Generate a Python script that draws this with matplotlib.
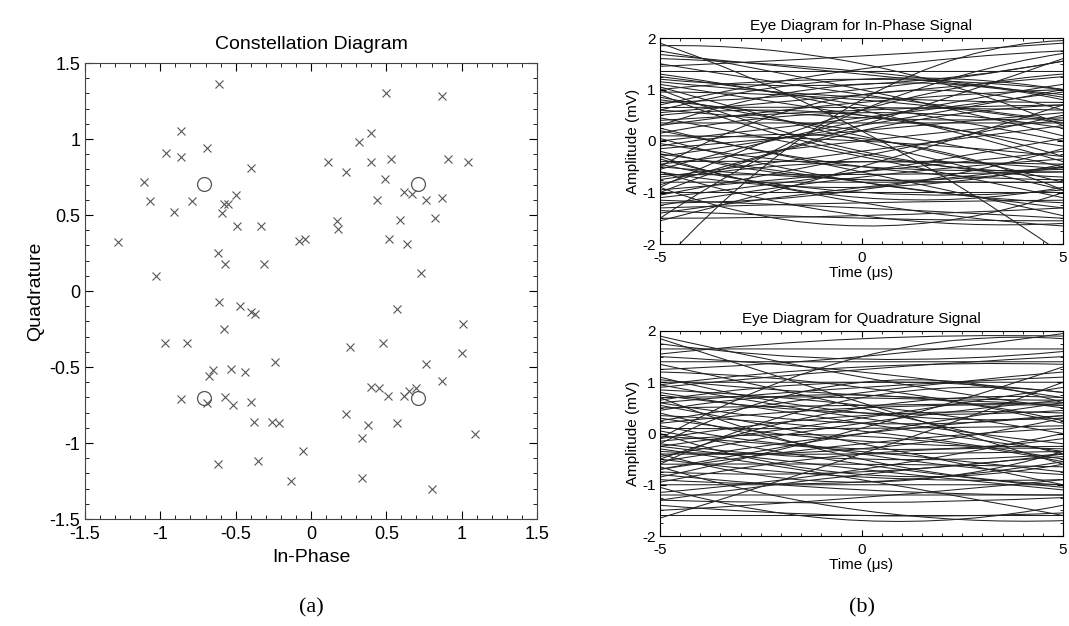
import numpy as np
import matplotlib.pyplot as plt
from matplotlib.path import Path
from matplotlib.patches import PathPatch
from matplotlib.ticker import MultipleLocator

plt.rcParams['font.family'] = ['Liberation Sans', 'DejaVu Sans']

# received symbols (In-Phase, Quadrature)
rx_i = [-0.61, -0.86, -0.96, -0.86, -0.69, -0.40, -1.11, -1.07, -0.79, -0.91,
        -0.58, -0.55, -0.50, -0.59, -0.49, -0.33, -1.28, -0.62, -0.57, -0.31,
        -1.03, -0.08, -0.04, -0.61, -0.47, -0.40, -0.37,
        0.50, 0.87, 0.40, 0.32, 0.11, 0.40, 0.53, 0.91, 1.04, 0.23,
        0.49, 0.62, 0.67, 0.44, 0.76, 0.87, 0.17, 0.18, 0.59, 0.82,
        0.52, 0.64, 0.73, 0.57,
        -0.58, -0.97, -0.82, -0.24, -0.68, -0.65, -0.53, -0.44, -0.86, -0.69,
        -0.57, -0.52, -0.40, -0.38, -0.26, -0.21, -0.62, -0.35, -0.13, -0.05,
        1.01, 0.26, 0.48, 1.00, 0.76, 0.87, 0.40, 0.45, 0.51, 0.62,
        0.65, 0.70, 0.23, 0.38, 0.57, 0.34, 1.09, 0.34, 0.80]
rx_q = [1.36, 1.05, 0.91, 0.88, 0.94, 0.81, 0.72, 0.59, 0.59, 0.52,
        0.57, 0.57, 0.63, 0.51, 0.43, 0.43, 0.32, 0.25, 0.18, 0.18,
        0.10, 0.33, 0.34, -0.07, -0.10, -0.14, -0.15,
        1.30, 1.28, 1.04, 0.98, 0.85, 0.85, 0.87, 0.87, 0.85, 0.78,
        0.74, 0.65, 0.64, 0.60, 0.60, 0.61, 0.46, 0.41, 0.47, 0.48,
        0.34, 0.31, 0.12, -0.12,
        -0.25, -0.34, -0.34, -0.47, -0.56, -0.52, -0.51, -0.53, -0.71, -0.74,
        -0.70, -0.75, -0.73, -0.86, -0.86, -0.87, -1.14, -1.12, -1.25, -1.05,
        -0.22, -0.37, -0.34, -0.41, -0.48, -0.59, -0.63, -0.64, -0.69, -0.69,
        -0.66, -0.64, -0.81, -0.88, -0.87, -0.97, -0.94, -1.23, -1.30]

# ideal QPSK points
ideal_i = [-0.707, 0.707, -0.707, 0.707]
ideal_q = [0.707, 0.707, -0.707, -0.707]

# eye traces: amplitude at t=-5, t=0, t=5 (mV)
eye_i_start = [1.9, -2.4, -1.5, -0.9, 1.85, 1.75, 1.68, 1.35, 1.3, 1.2,
               1.1, 1.0, 0.95, 0.85, 0.75, 0.65, 0.6, 0.55, 0.45, 0.35,
               0.3, 0.2, 0.1, 0.0, -0.05, -0.15, -0.25, -0.3, -0.4, -0.45,
               -0.5, -0.55, -0.65, -0.7, -0.8, -0.85, -0.95, -1.0, -1.05, -1.15,
               -1.25, -1.3, -1.4, -1.5, -1.55, 1.5, 1.45, 0.7, 0.5, 0.25,
               -0.2, -0.6, -0.35, 1.05, 0.9, -1.1, 0.4, -0.75, 1.15, -1.35,
               0.05, -0.9, 1.6, -0.45, 0.8, -1.2, 0.15, -0.1, 1.25, -0.6,
               0.6, -0.5, 1.0, -1.0, 0.3, -0.3]
eye_i_mid = [0.2, 0.8, 0.6, -1.65, 1.5, 1.0, 1.3, 1.35, 0.6, 1.1,
             0.5, 1.2, 0.8, 0.1, 1.0, 0.65, 0.2, 0.9, -0.3, 0.35,
             0.75, -0.6, 0.0, 0.45, -0.5, 0.2, -0.8, 0.3, -0.4, 0.0,
             -0.75, 0.4, -0.65, -0.2, -0.8, 0.3, -0.6, -1.0, -0.3, -1.3,
             -0.7, -1.2, -0.9, -1.45, -0.5, 0.9, 1.65, 1.4, 0.5, -0.5,
             -0.75, -0.9, -1.2, 0.0, -0.25, -0.6, 0.6, -0.4, 0.85, -1.5,
             -0.8, 0.6, 1.35, -1.0, 0.45, -0.95, 0.55, 0.05, 0.7, -1.45,
             1.2, 0.9, -0.2, 0.2, 1.1, -1.1]
eye_i_end = [-2.2, 1.95, 1.7, -1.0, 0.3, 0.1, 0.9, 1.35, -0.4, 1.55,
             -0.1, 1.0, 0.35, -0.8, 1.55, 0.6, -0.5, 1.25, -1.1, 0.35,
             1.0, -1.45, -0.3, 0.95, -0.55, 0.55, -1.3, 1.0, -0.45, 0.4,
             -0.8, 1.1, -0.6, 0.3, -0.8, 1.6, -0.2, -1.0, 0.5, -1.5,
             -0.35, -1.15, -0.5, -1.3, 0.7, 0.4, 1.9, 1.75, -0.3, -0.75,
             -0.5, -0.45, -1.65, -0.95, -0.6, 0.05, 0.7, -0.55, 0.75, -1.55,
             -1.2, 1.3, 0.85, -0.95, 0.45, -0.15, 0.25, -0.95, 0.0, -1.6,
             1.0, 0.6, -0.7, 0.7, 0.8, -0.9]

eye_q_start = [1.9, 1.85, 1.75, 1.65, 1.4, 1.35, 1.25, 1.0, 0.9, 0.8,
               0.7, 0.6, 0.55, 0.5, 0.35, 0.25, 0.1, 0.05, -0.1, -0.1,
               -0.2, -0.25, -0.3, -0.4, -0.45, -0.5, -0.55, -0.6, -0.7, -0.8,
               -0.85, -0.95, -1.0, -1.05, -1.2, -1.3, -1.4, -1.6, -1.65, -0.65,
               1.1, 0.95, 0.65, 0.4, 0.2, -0.35, -0.75, 0.3, 1.2, -1.15,
               0.75, -0.05, 0.45, -0.5, 1.5, -0.9, 0.15, -0.25, 0.85, -1.5,
               1.55, -0.15, 0.6, -0.4, 1.05, -0.7, 0.95, -1.3,
               0.0, -0.6, 0.7, -0.2]
eye_q_mid = [1.1, 0.6, 1.45, 1.65, 1.4, 0.5, 1.5, 1.0, 1.25, 0.2,
             0.7, 0.9, -0.2, 0.55, 0.05, 0.8, 0.1, -0.6, 1.5, 0.35,
             -0.5, 0.3, -0.9, -0.4, 0.2, -0.85, 0.0, -0.6, -0.2, -1.1,
             0.1, -0.4, -1.0, -1.7, -1.2, -0.8, -1.6, -1.6, -0.4, -1.5,
             0.4, 0.3, 1.0, -0.4, 0.5, -0.3, -0.75, -0.15, 0.9, -0.7,
             0.4, -0.35, 0.75, 0.5, 1.2, -0.95, -0.3, -0.7, 0.55, -1.25,
             1.85, -0.05, 0.2, -0.95, 0.75, 0.0, 1.3, -1.35,
             -0.8, 0.7, -0.5, 1.0]
eye_q_end = [0.5, -0.6, 1.6, 1.65, 1.4, -0.4, 1.95, 1.0, 1.5, -0.35,
             0.55, 1.1, -1.0, 0.6, -0.5, 1.2, 0.15, -1.05, 1.85, 0.4,
             -0.4, 0.9, -1.6, -0.35, 0.65, -0.9, 0.35, -0.65, 0.1, -1.2,
             1.3, -0.3, -1.0, -1.4, -1.2, -0.45, -1.55, -1.6, 1.0, -1.7,
             0.3, -0.2, 0.8, -0.8, 0.55, 0.3, -0.4, -0.25, 0.2, 0.0,
             0.45, -0.75, 0.25, 0.7, 0.7, -0.55, -0.1, -1.1, 0.0, -0.9,
             1.9, -0.55, 0.35, -0.35, 0.65, 0.6, 1.35, -1.25,
             -0.6, 0.8, -1.0, 0.6]

t_edges = [-5, 5]

fig = plt.figure(figsize=(10.69, 6.26), dpi=100)

# --- constellation
ax = fig.add_axes([85 / 1069, 1 - 519 / 626, 452 / 1069, 456 / 626])
ax.plot(rx_i, rx_q, 'x', color='#555555', markersize=5.5, mew=0.8)
ax.plot(ideal_i, ideal_q, 'o', mfc='none', mec='#555555', markersize=10, mew=0.9)
ax.set_xlim(-1.5, 1.5)
ax.set_ylim(-1.5, 1.5)
ax.xaxis.set_minor_locator(MultipleLocator(0.1))
ax.yaxis.set_minor_locator(MultipleLocator(0.1))
ax.tick_params(which='both', direction='in', top=True, right=True, labelsize=13)
ax.tick_params(axis='x', pad=5)
ax.tick_params(which='major', length=6)
ax.tick_params(which='minor', length=3)
ax.set_xticks([-1.5, -1, -0.5, 0, 0.5, 1, 1.5])
ax.set_xticklabels(['-1.5', '-1', '-0.5', '0', '0.5', '1', '1.5'])
ax.set_yticks([-1.5, -1, -0.5, 0, 0.5, 1, 1.5])
ax.set_yticklabels(['-1.5', '-1', '-0.5', '0', '0.5', '1', '1.5'])
ax.set_title('Constellation Diagram', fontsize=14, pad=10)
ax.set_xlabel('In-Phase', fontsize=14)
ax.set_ylabel('Quadrature', fontsize=14)
for s in ax.spines.values():
    s.set_color('#444444')


def eye_panel(rect, starts, mids, ends, title):
    a = fig.add_axes(rect)
    for y0, ym, y1 in zip(starts, mids, ends):
        # quadratic bezier through start, t=0 value and end
        ctrl = 2 * ym - (y0 + y1) / 2
        verts = [(t_edges[0], y0), (0, ctrl), (t_edges[1], y1)]
        p = Path(verts, [Path.MOVETO, Path.CURVE3, Path.CURVE3])
        a.add_patch(PathPatch(p, fill=False, edgecolor='#222222', lw=0.75))
    a.set_xlim(-5, 5)
    a.set_ylim(-2, 2)
    a.set_xticks([-5, 0, 5])
    a.set_xticklabels(['-5', '0', '5'])
    a.set_yticks([-2, -1, 0, 1, 2])
    a.set_yticklabels(['-2', '-1', '0', '1', '2'])
    a.xaxis.set_minor_locator(MultipleLocator(0.5))
    a.yaxis.set_minor_locator(MultipleLocator(0.25))
    a.tick_params(which='both', direction='in', top=True, right=True, labelsize=11)
    a.tick_params(axis='x', pad=5)
    a.tick_params(axis='y', pad=3)
    a.tick_params(which='major', length=4)
    a.tick_params(which='minor', length=2)
    a.set_title(title, fontsize=11, pad=6)
    a.set_xlabel('Time (\u03bcs)', fontsize=11, labelpad=1)
    a.set_ylabel('Amplitude (mV)', fontsize=11, labelpad=2)
    return a


eye_panel([660 / 1069, 1 - 244 / 626, 403 / 1069, 206 / 626],
          eye_i_start, eye_i_mid, eye_i_end, 'Eye Diagram for In-Phase Signal')
eye_panel([660 / 1069, 1 - 536 / 626, 403 / 1069, 205 / 626],
          eye_q_start, eye_q_mid, eye_q_end, 'Eye Diagram for Quadrature Signal')

fig.text(311 / 1069, 1 - 608 / 626, '(a)', ha='center', va='center', fontsize=16,
         family=['Liberation Serif', 'DejaVu Serif'])
fig.text(862 / 1069, 1 - 608 / 626, '(b)', ha='center', va='center', fontsize=16,
         family=['Liberation Serif', 'DejaVu Serif'])

fig.savefig('out.png', dpi=100)
